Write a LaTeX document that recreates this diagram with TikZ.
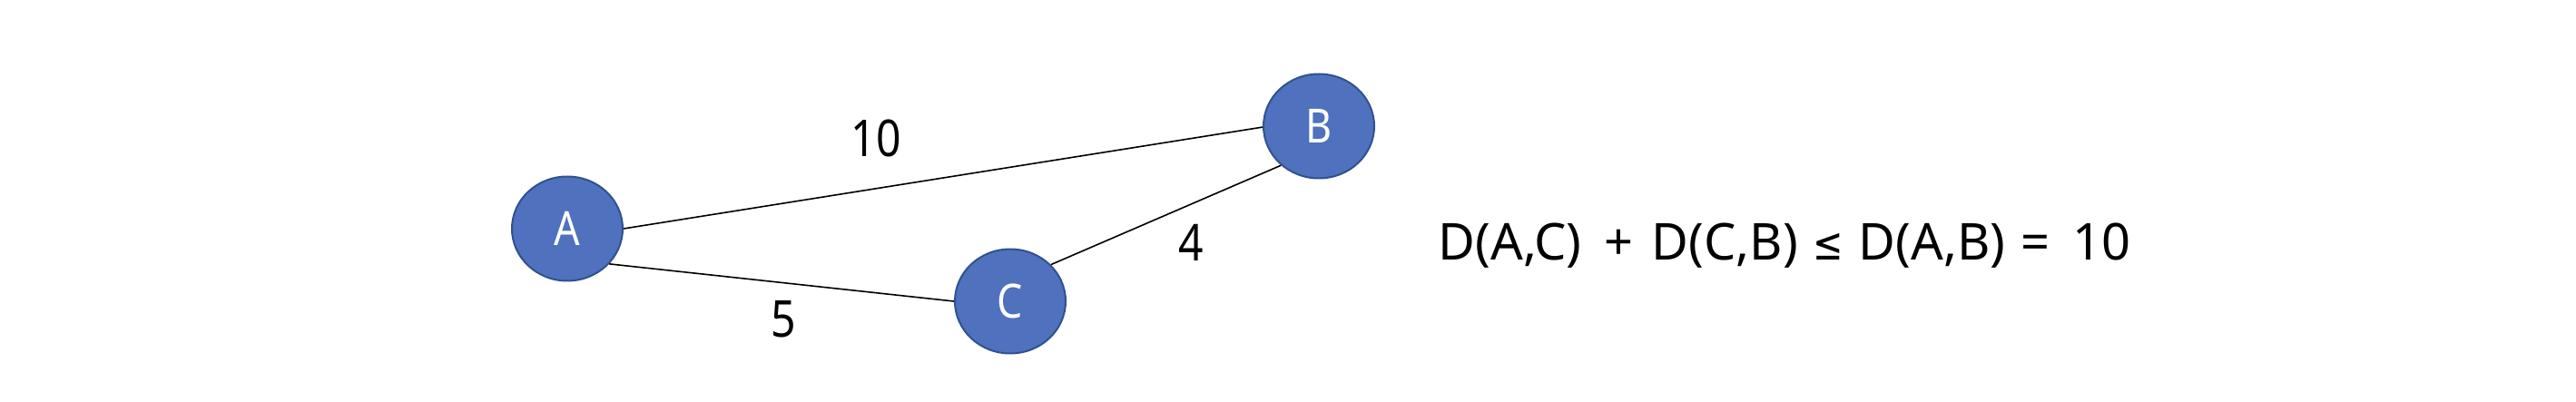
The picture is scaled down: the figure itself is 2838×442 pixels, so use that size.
\documentclass[tikz,border=0pt]{standalone}
\usepackage{fontspec}
\setmainfont{Noto Sans}[FakeStretch=0.86]
\newfontfamily\eqfont{Noto Sans}
\newfontfamily\symfont{DejaVu Sans}[FakeStretch=0.8]
\usetikzlibrary{shapes.geometric}
\definecolor{nodefill}{HTML}{4F71BE}
\definecolor{nodeline}{HTML}{2F528F}
\tikzset{
  vertex/.style={ellipse, draw=nodeline, fill=nodefill, line width=2pt,
    minimum width=122pt, minimum height=115pt, inner sep=0pt,
    text=white, font=\fontsize{52}{56}\selectfont},
  edge/.style={draw=black, line width=1.6pt},
  weight/.style={inner sep=0pt, font=\fontsize{56}{60}\selectfont},
  formula/.style={inner sep=0pt, font=\eqfont\fontsize{56}{60}\selectfont},
}
\newcommand{\putat}[2]{\rlap{\hspace{#1pt}#2}}
\begin{document}
\begin{tikzpicture}[x=1pt,y=1pt]
\useasboundingbox (0,0) rectangle (2838,442);
\node[vertex] (A) at (625,190) {A};
\node[vertex] (B) at (1453,303) {B};
\node[vertex] (C) at (1113,110) {C};
\draw[edge] (A.0) -- (B.181);
\draw[edge] (A.-40) -- (C.west);
\draw[edge] (C.42) -- (B.226);
\node[weight] (w10) at (965,290) {10};
\node[weight] (w4) at (1312,175) {4};
\node[weight] (w5) at (863,90) {5};
\node[formula, anchor=base west] (eq) at (1584,155) {\putat{0}{D(A,C)}\putat{183}{+}\putat{235}{D(C,B)}\putat{413}{\symfont\fontsize{50}{54}\selectfont ≤}\putat{463}{D(A,B)}\putat{642}{=}\putat{699}{10}\hspace{755pt}};
\end{tikzpicture}
\end{document}
